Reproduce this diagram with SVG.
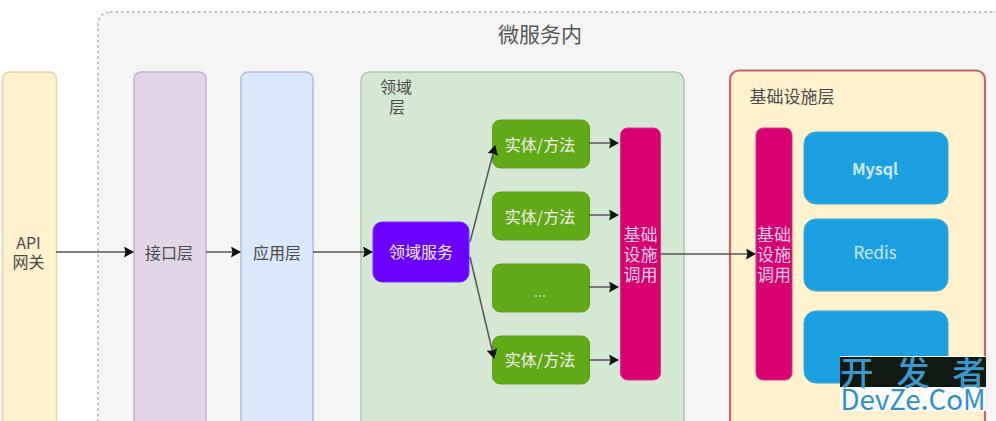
<svg xmlns="http://www.w3.org/2000/svg" width="996" height="421" viewBox="0 0 996 421">
<defs>
<marker id="a" markerUnits="userSpaceOnUse" markerWidth="10" markerHeight="11" refX="9" refY="5.500" orient="auto"><path d="M0 0L10 5.500L0 11L1.500 5.500Z" fill="#111"/></marker>
</defs>
<style>
text{font-family:"Noto Sans CJK SC","Liberation Sans",sans-serif;text-anchor:middle}
.d{font-size:16px;fill:#4a4a4a}
.w{font-size:16px;fill:#f0f0f0}
.c{font-size:17px;fill:#f7cfe2}
.g rect{fill:#60a917;stroke:#5a9f18;stroke-width:1}
.l{fill:none;stroke:#555;stroke-width:1.500;marker-end:url(#a)}
</style>
<rect width="996" height="421" fill="#fff"/>
<g id="microservice">
<rect x="98" y="12" width="920" height="440" rx="12" fill="#f5f5f5" stroke="#aaa" stroke-width="1.400" stroke-dasharray="2.500 3"/>
<text x="540" y="42" font-size="21" fill="#555">微服务内</text>
</g>
<g id="gateway"><rect x="2.500" y="72" width="54" height="380" rx="7" fill="#fff2cc" stroke="#e4d6a8" stroke-width="1.500"/><text class="d" x="28.500" y="249">API</text><text class="d" x="28.500" y="268">网关</text></g>
<g id="interface"><rect x="134" y="72" width="72" height="380" rx="7" fill="#e1d5e7" stroke="#c3aed0" stroke-width="1.500"/><text class="d" x="169" y="259">接口层</text></g>
<g id="application"><rect x="241" y="72" width="72" height="380" rx="7" fill="#dae8fc" stroke="#aebbdc" stroke-width="1.500"/><text class="d" x="277" y="259">应用层</text></g>
<g id="domain"><rect x="361" y="72" width="323" height="380" rx="9" fill="#d5e8d4" stroke="#a9c9a4" stroke-width="1.500"/><text class="d" x="396" y="93">领域</text><text class="d" x="397" y="113">层</text></g>
<g id="domain-service"><rect x="373" y="222" width="96" height="60" rx="9" fill="#6a00ff" stroke="#7a2cff"/><text class="w" x="421" y="258">领域服务</text></g>
<g id="entity-1" class="g"><rect x="492.500" y="120" width="97" height="48" rx="8"/><text class="w" x="540" y="151">实体/方法</text></g>
<g id="entity-2" class="g"><rect x="492.500" y="192" width="97" height="48" rx="8"/><text class="w" x="540" y="223">实体/方法</text></g>
<g id="entity-3" class="g"><rect x="492.500" y="264" width="97" height="48" rx="8"/><text x="540" y="297" font-size="15" fill="#c9e0ae">...</text></g>
<g id="entity-4" class="g"><rect x="492.500" y="336" width="97" height="48" rx="8"/><text class="w" x="540" y="366">实体/方法</text></g>
<g id="infra-call-1"><rect x="620.500" y="128" width="40" height="252" rx="7" fill="#d80073" stroke="#e0308c"/><text class="c" x="640.500" y="241">基础</text><text class="c" x="640.500" y="261">设施</text><text class="c" x="640.500" y="281">调用</text></g>
<g id="infrastructure"><rect x="730" y="70.500" width="255" height="380" rx="9" fill="#fff2cc" stroke="#c4666a" stroke-width="2.200"/><text x="792" y="103" font-size="17" fill="#4a4a4a">基础设施层</text></g>
<g id="infra-call-2"><rect x="756" y="128" width="36" height="252" rx="7" fill="#d80073" stroke="#e0308c"/><text class="c" x="774" y="241">基础</text><text class="c" x="774" y="261">设施</text><text class="c" x="774" y="281">调用</text></g>
<g id="mysql"><rect x="804" y="132" width="144" height="72" rx="12" fill="#1ba1e2" stroke="#3aa5d8"/><text x="875" y="175" font-size="16" font-weight="700" fill="#cfe9f8">Mysql</text></g>
<g id="redis"><rect x="804" y="219" width="144" height="72" rx="12" fill="#1ba1e2" stroke="#3aa5d8"/><text x="875" y="259" font-size="17" fill="#cfe9f8">Redis</text></g>
<g id="store-3"><rect x="804" y="311" width="144" height="72" rx="12" fill="#1ba1e2" stroke="#3aa5d8"/></g>
<g id="connectors">
<path class="l" d="M56 252H133"/><path class="l" d="M206 252H240"/><path class="l" d="M313 252H372"/>
<path class="l" d="M470 242L495 146"/><path class="l" d="M470 257L494 358"/>
<path class="l" d="M589 143H618"/><path class="l" d="M589 215H618"/><path class="l" d="M589 287H618"/><path class="l" d="M589 360H618"/>
<path class="l" d="M661 254H755"/>
</g>
<g id="watermark">
<rect x="840" y="356" width="146" height="55" fill="#fff"/>
<rect x="840" y="357" width="146" height="30" fill="#101a10"/>
<text x="857" y="385" font-size="33" font-weight="500" fill="#3c97cf">开</text><text x="913" y="385" font-size="33" font-weight="500" fill="#3c97cf">发</text><text x="969" y="385" font-size="33" font-weight="500" fill="#3c97cf">者</text>
<text x="913" y="410" font-size="28" fill="#2f8fc9" font-family="Liberation Sans" textLength="145" lengthAdjust="spacingAndGlyphs">DevZe.CoM</text>
</g>
</svg>
